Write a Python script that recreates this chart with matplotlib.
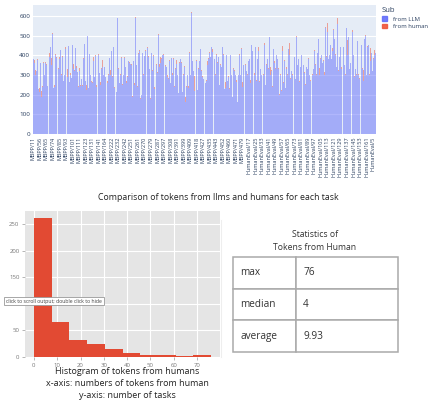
import numpy as np
import matplotlib
matplotlib.use("Agg")
import matplotlib.pyplot as plt
from matplotlib.patches import Patch

plt.rcParams['font.family'] = ['Open Sans', 'DejaVu Sans']

# tokens written by the LLM for each task
llm_tokens = [
    380, 362, 335, 300, 318, 375, 228, 215, 262, 360, 190, 240, 362, 300, 298, 360, 352, 245, 370, 248,
    392, 440, 352, 510, 400, 232, 240, 402, 385, 252, 160, 330, 380, 425, 300, 275, 392, 268, 300, 430,
    300, 385, 290, 445, 262, 300, 372, 282, 452, 330, 318, 372, 436, 335, 315, 240, 318, 380, 246, 280,
    242, 382, 278, 455, 270, 222, 498, 232, 320, 405, 302, 265, 260, 392, 372, 290, 395, 240, 320, 300,
    402, 310, 248, 332, 240, 342, 300, 338, 290, 300, 472, 258, 300, 385, 300, 225, 420, 290, 442, 232,
    290, 240, 212, 590, 330, 258, 392, 300, 388, 250, 302, 372, 385, 340, 260, 290, 372, 330, 362, 355,
    350, 190, 360, 372, 248, 590, 352, 240, 232, 408, 422, 180, 200, 420, 410, 300, 395, 420, 235, 410,
    438, 390, 330, 180, 310, 412, 320, 398, 230, 300, 400, 352, 312, 502, 342, 350, 362, 380, 400, 400,
    620, 382, 345, 340, 290, 280, 135, 370, 260, 385, 300, 262, 380, 240, 330, 355, 300, 400, 210, 362,
    380, 362, 400, 212, 300, 342, 160, 240, 418, 300, 232, 412, 300, 280, 612, 370, 318, 220, 380, 330,
    370, 222, 330, 372, 282, 432, 320, 290, 280, 352, 230, 258, 270, 350, 380, 300, 410, 392, 440, 418,
    370, 282, 380, 300, 402, 360, 262, 390, 250, 350, 338, 300, 440, 402, 230, 232, 400, 300, 268, 290,
    230, 400, 215, 300, 190, 330, 320, 300, 480, 262, 160, 300, 402, 350, 300, 430, 240, 350, 330, 352,
    350, 320, 300, 370, 342, 380, 260, 450, 422, 300, 312, 300, 440, 270, 380, 352, 420, 262, 330, 300,
    262, 625, 300, 450, 250, 350, 230, 380, 330, 490, 300, 400, 322, 240, 430, 360, 330, 312, 400, 380,
    330, 200, 492, 300, 220, 420, 260, 370, 350, 232, 330, 302, 430, 260, 400, 280, 322, 300, 390, 350,
    390, 280, 492, 350, 300, 380, 262, 340, 400, 302, 300, 350, 312, 250, 340, 400, 330, 380, 300, 270,
    400, 382, 300, 330, 420, 352, 440, 300, 412, 480, 302, 420, 380, 400, 360, 370, 300, 420, 540, 390,
    520, 380, 302, 400, 450, 380, 420, 530, 352, 480, 400, 340, 560, 400, 320, 390, 440, 330, 300, 350,
    440, 350, 300, 540, 450, 400, 490, 330, 360, 480, 300, 520, 400, 290, 330, 380, 300, 470, 300, 280,
    470, 320, 450, 330, 270, 480, 400, 500, 300, 440, 450, 340, 300, 370, 410, 320, 380, 360, 400, 410,
]

# tokens written by the human for each task (estimated)
human_tokens = [
    3, 12, 0, 25, 2, 5, 1, 18, 4, 0, 30, 2, 6, 9, 1, 4, 3, 0, 14, 7,
    20, 2, 35, 4, 1, 0, 11, 3, 5, 2, 0, 6, 9, 1, 3, 22, 4, 0, 2, 13,
    1, 5, 40, 3, 0, 8, 2, 4, 1, 27, 6, 0, 3, 10, 2, 5, 16, 1, 4, 0,
    7, 2, 9, 3, 0, 28, 1, 4, 12, 2, 0, 5, 3, 6, 20, 1, 4, 8, 0, 2,
    3, 0, 14, 5, 2, 33, 1, 4, 0, 6, 2, 10, 3, 1, 24, 4, 0, 7, 2, 5,
    1, 48, 3, 0, 4, 2, 12, 6, 1, 3, 0, 18, 5, 2, 9, 4, 1, 36, 3, 0,
    5, 2, 4, 1, 11, 3, 0, 6, 26, 2, 4, 1, 0, 15, 3, 7, 2, 5, 1, 58,
    2, 4, 0, 3, 21, 1, 6, 2, 9, 4, 0, 3, 1, 5, 13, 2, 30, 4, 0, 6,
    3, 1, 5, 0, 8, 2, 42, 4, 1, 3, 11, 0, 6, 2, 4, 19, 1, 3, 0, 5,
    2, 4, 1, 0, 6, 3, 29, 2, 5, 1, 10, 4, 0, 3, 7, 2, 1, 72, 4, 0,
    6, 1, 3, 0, 14, 2, 5, 4, 1, 8, 3, 0, 2, 23, 6, 1, 4, 0, 3, 12,
    1, 3, 0, 5, 2, 4, 17, 1, 0, 6, 3, 9, 2, 4, 1, 34, 0, 5, 3, 2,
    4, 1, 50, 2, 0, 3, 6, 1, 4, 12, 2, 0, 5, 3, 1, 7, 25, 2, 4, 0,
    3, 0, 6, 2, 4, 1, 15, 3, 0, 5, 2, 8, 1, 4, 3, 0, 21, 6, 2, 1,
    0, 4, 3, 10, 1, 5, 2, 0, 6, 3, 38, 1, 4, 2, 0, 13, 3, 5, 1, 2,
    5, 2, 0, 4, 1, 27, 3, 6, 2, 0, 9, 4, 1, 3, 64, 2, 0, 5, 3, 1,
    2, 0, 4, 1, 16, 3, 5, 2, 0, 6, 11, 1, 4, 3, 0, 22, 2, 5, 1, 3,
    4, 1, 3, 0, 5, 2, 9, 4, 1, 0, 32, 3, 6, 2, 1, 4, 14, 0, 3, 7,
    45, 2, 4, 1, 0, 3, 18, 5, 2, 1, 4, 0, 28, 3, 6, 1, 2, 10, 4, 0,
    3, 1, 5, 0, 2, 76, 4, 1, 3, 12, 0, 6, 2, 4, 1, 20, 3, 0, 5, 2,
    1, 4, 0, 3, 55, 2, 5, 1, 0, 8, 3, 2, 4, 69, 1, 0, 6, 3, 24, 2,
]

# every 8th task name is shown on the axis
tick_labels = [
    'MBPP/11', 'MBPP/56', 'MBPP/65', 'MBPP/74', 'MBPP/85', 'MBPP/93', 'MBPP/101',
    'MBPP/111', 'MBPP/123', 'MBPP/131', 'MBPP/141', 'MBPP/164', 'MBPP/222', 'MBPP/232',
    'MBPP/242', 'MBPP/251', 'MBPP/261', 'MBPP/270', 'MBPP/279', 'MBPP/287', 'MBPP/297',
    'MBPP/308', 'MBPP/391', 'MBPP/399', 'MBPP/409', 'MBPP/418', 'MBPP/427', 'MBPP/435',
    'MBPP/443', 'MBPP/452', 'MBPP/460', 'MBPP/471', 'MBPP/479', 'HumanEval/17',
    'HumanEval/25', 'HumanEval/33', 'HumanEval/41', 'HumanEval/49', 'HumanEval/57',
    'HumanEval/65', 'HumanEval/73', 'HumanEval/81', 'HumanEval/89', 'HumanEval/97',
    'HumanEval/105', 'HumanEval/113', 'HumanEval/121', 'HumanEval/129', 'HumanEval/137',
    'HumanEval/145', 'HumanEval/153', 'HumanEval/161', 'HumanEval/5',
]

# histogram of human tokens (10 bins from 0 to 76)
hist_edges = [0, 7.6, 15.2, 22.8, 30.4, 38.0, 45.6, 53.2, 60.8, 68.4, 76.0]
hist_counts = [262, 65, 32, 24, 16, 8, 4, 3, 1, 3]
# the "100" label is hidden under the output tooltip in the original
hist_ylabels = ['0', '50', '', '150', '200', '250']

stat_names = ['max', 'median', 'average']
stat_values = ['76', '4', '9.93']

W, H = 435, 407
fig = plt.figure(figsize=(W / 100, H / 100), dpi=100)
fig.patch.set_facecolor('white')

def box(x0, y0, x1, y1):
    return [x0 / W, 1 - y1 / H, (x1 - x0) / W, (y1 - y0) / H]

# ---- top: stacked bars (plotly look) ----
blue = '#636EFA'
red = '#EF553B'
axis_col = '#2a3f5f'
ax = fig.add_axes(box(33, 5, 376, 134))
ax.set_facecolor('#E5ECF6')
x = np.arange(len(llm_tokens))
ax.bar(x, llm_tokens, width=0.95, color=blue, alpha=0.5, linewidth=0, zorder=2)
ax.bar(x, human_tokens, width=0.95, bottom=llm_tokens, color=red, alpha=0.5,
       linewidth=0, zorder=2)
ax.set_xlim(-0.5, len(llm_tokens) - 0.5)
ax.set_ylim(0, 655)
ax.set_yticks(range(0, 601, 100))
ax.grid(axis='y', color='white', linewidth=0.8, zorder=1)
ax.set_axisbelow(True)
ax.set_xticks(x[::8][:len(tick_labels)])
ax.set_xticklabels(tick_labels, rotation=90, fontsize=4, color=axis_col)
ax.tick_params(axis='y', labelsize=4.5, labelcolor=axis_col, length=0, pad=2)
ax.tick_params(axis='x', length=0, pad=2)
for s in ax.spines.values():
    s.set_visible(False)
handles = [Patch(color=blue, alpha=0.9, label='from LLM'),
           Patch(color=red, alpha=0.9, label='from human')]
leg = ax.legend(handles=handles, title='Sub', loc='upper left',
                bbox_to_anchor=(1.01, 1.0), frameon=False, fontsize=4.3,
                title_fontsize=5.5, handlelength=0.9, handleheight=0.9,
                handletextpad=0.9, labelspacing=0.3, alignment='left', borderaxespad=0)
for t in leg.get_texts():
    t.set_color(axis_col)
leg.get_title().set_color(axis_col)

fig.text(218 / W, 1 - 197 / H, 'Comparison of tokens from llms and humans for each task',
         ha='center', va='center', fontsize=6.3, color='#222222')

# ---- bottom left: histogram (ggplot look) ----
ah = fig.add_axes(box(25, 211, 220, 357))
ah.set_facecolor('#E5E5E5')
centers = [(a + b) / 2 for a, b in zip(hist_edges[:-1], hist_edges[1:])]
ah.hist(centers, bins=hist_edges, weights=hist_counts, color='#E24A33', zorder=2)
ah.set_xlim(-3.8, 79.8)
ah.set_ylim(0, 275)
ah.set_xticks(range(0, 71, 10))
ah.set_yticks(range(0, 251, 50))
ah.set_yticklabels(hist_ylabels)
ah.grid(color='white', linewidth=0.8, zorder=1)
ah.set_axisbelow(True)
ah.tick_params(labelsize=4.3, labelcolor='#777777', color='#999999', length=2, width=0.5, pad=2)
for s in ah.spines.values():
    s.set_visible(False)

fig.text(6 / W, 1 - 301 / H, 'click to scroll output; double click to hide',
         ha='left', va='center', fontsize=3.7, color='#444444', zorder=10,
         bbox=dict(boxstyle='square,pad=0.35', fc='white', ec='#999999', lw=0.6))

fig.text(127 / W, 1 - 372 / H, 'Histogram of tokens from humans', ha='center', va='center',
         fontsize=6.5, color='#222222')
fig.text(127 / W, 1 - 384 / H, 'x-axis: numbers of tokens from human', ha='center',
         va='center', fontsize=6.5, color='#222222')
fig.text(127 / W, 1 - 396 / H, 'y-axis: number of tasks', ha='center', va='center',
         fontsize=6.5, color='#222222')

# faint cell border
fig.add_artist(plt.Line2D([221 / W, 221 / W], [1 - 357 / H, 1 - 220 / H],
                          color='#eeeeee', linewidth=0.8))

# ---- bottom right: statistics table ----
fig.text(315 / W, 1 - 235 / H, 'Statistics of', ha='center', va='center',
         fontsize=6.2, color='#333333')
fig.text(315 / W, 1 - 247 / H, 'Tokens from Human', ha='center', va='center',
         fontsize=6.2, color='#333333')
at = fig.add_axes(box(233, 257, 398, 352))
at.axis('off')
tbl = at.table(cellText=[[n, v] for n, v in zip(stat_names, stat_values)],
               bbox=[0, 0, 1, 1], colWidths=[63 / 165, 102 / 165], cellLoc='left')
tbl.auto_set_font_size(False)
for (r, c), cell in tbl.get_celld().items():
    cell.set_edgecolor('#aaaaaa')
    cell.set_linewidth(1.1)
    cell.get_text().set_fontsize(7.2)
    cell.get_text().set_color('#333333')
    cell.PAD = 0.12 if c == 0 else 0.07

fig.savefig('out.png', dpi=100)
